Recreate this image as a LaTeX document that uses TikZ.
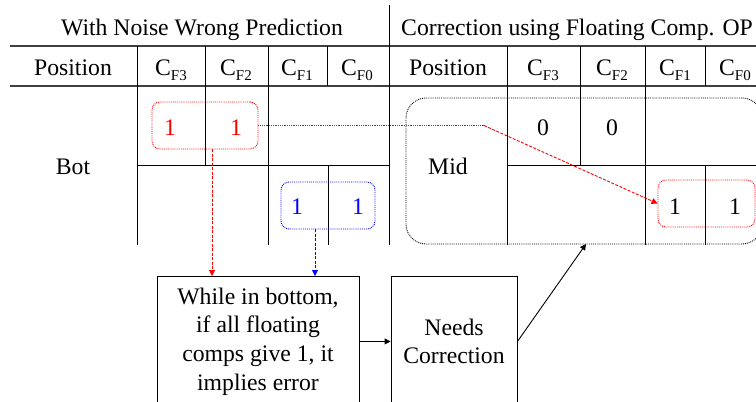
\documentclass[tikz,border=0pt]{standalone}
\usepackage{fontspec}
\setmainfont{Liberation Serif}
\usetikzlibrary{arrows.meta,calc}
\newcommand\cfsub[1]{C\raisebox{-5.5pt}{\fontsize{15}{15}\selectfont F#1}}
\begin{document}
\begin{tikzpicture}[x=1pt,y=-1pt,
  every node/.style={font=\fontsize{23.7}{28.7}\selectfont, inner sep=0pt},
  txt/.style={anchor=base},
  hline/.style={line width=1.3pt, black!75},
  tline/.style={line width=1pt, black},
  redbox/.style={draw=red, densely dotted, line width=0.9pt, rounded corners=8pt, minimum width=#1, minimum height=47},
  bluebox/.style={draw=blue, densely dotted, line width=0.9pt, rounded corners=8pt, minimum width=#1, minimum height=47},
  blkbox/.style={draw=black, densely dotted, line width=0.9pt, rounded corners=20pt},
  flowbox/.style={draw=black, line width=0.9pt, align=center, anchor=north, minimum height=130},
  tip/.style={-{Triangle[length=6pt,width=6pt]}},
]
\useasboundingbox (0,0) rectangle (756,402);
% titles
\node[txt] (t1) at (202,35) {With Noise Wrong Prediction};
\node[txt] (t2) at (577,35) {Correction using Floating Comp. OP};
% table rules
\draw[hline] (10,46) -- (756,46);
\draw[hline] (10,86) -- (756,86);
\draw[tline] (389,5) -- (389,245);
\draw[tline] (137,46) -- (137,245);
\draw[tline] (205,46) -- (205,165);
\draw[tline] (268,46) -- (268,245);
\draw[tline] (327,46) -- (327,86);
\draw[tline] (328,165) -- (328,245);
\draw[tline] (137,165) -- (389,165);
\draw[tline] (507,46) -- (507,245);
\draw[tline] (580,46) -- (580,165);
\draw[tline] (645,46) -- (645,245);
\draw[tline] (705,46) -- (705,86);
\draw[tline] (705,165) -- (705,245);
\draw[tline] (507,165) -- (756,165);
% headers left
\node[txt] (hp1) at (73,75) {Position};
\node[txt] (h13) at (171,75) {\cfsub{3}};
\node[txt] (h12) at (236,75) {\cfsub{2}};
\node[txt] (h11) at (297,75) {\cfsub{1}};
\node[txt] (h10) at (357,75) {\cfsub{0}};
% headers right
\node[txt] (hp2) at (448,75) {Position};
\node[txt] (h23) at (543,75) {\cfsub{3}};
\node[txt] (h22) at (612,75) {\cfsub{2}};
\node[txt] (h21) at (675,75) {\cfsub{1}};
\node[txt] (h20) at (735,75) {\cfsub{0}};
% body left
\node[txt] (bot) at (73,174) {Bot};
\node[redbox=106] (rb1) at (205,125.5) {};
\node[txt, text=red] (r1a) at (170,135) {1};
\node[txt, text=red] (r1b) at (236,135) {1};
\node[bluebox=94] (bb) at (328,205.5) {};
\node[txt, text=blue] (b1a) at (297,214) {1};
\node[txt, text=blue] (b1b) at (358,214) {1};
% body right
\node[blkbox, minimum width=356, minimum height=146] (mbox) at (584,171) {};
\node[txt] (mid) at (448,174) {Mid};
\node[txt] (z1) at (543,135) {0};
\node[txt] (z2) at (612,135) {0};
\node[redbox=97] (rb2) at (706.5,203.5) {};
\node[txt] (o1) at (675,214) {1};
\node[txt] (o2) at (735,214) {1};
% flow boxes
\node[flowbox, minimum width=202] (box1) at (258,276) {While in bottom,\\if all floating\\comps give 1, it\\implies error};
\node[flowbox, minimum width=126] (box2) at (454,276) {Needs\\Correction};
% connectors
\coordinate (rbend) at (484,125.5);
\draw[red, densely dotted, line width=0.8pt] (rb1.east) -- (rbend);
\draw[red, dash pattern=on 3pt off 1.5pt, line width=0.9pt, tip] (rbend) -- (rb2.west);
\coordinate (rdown) at (212,149);
\draw[red, dash pattern=on 3pt off 1.5pt, line width=0.9pt, tip] (rdown) -- (rdown |- box1.north);
\coordinate (bdown) at (315,229);
\draw[blue, dash pattern=on 3pt off 1.5pt, line width=0.9pt, tip] (bdown) -- (bdown |- box1.north);
\draw[black, line width=0.9pt, tip] (box1.east) -- (box2.west);
\coordinate (mtarget) at (586,244);
\draw[black, line width=0.9pt, tip] (box2.east) -- (mtarget);
\end{tikzpicture}
\end{document}
